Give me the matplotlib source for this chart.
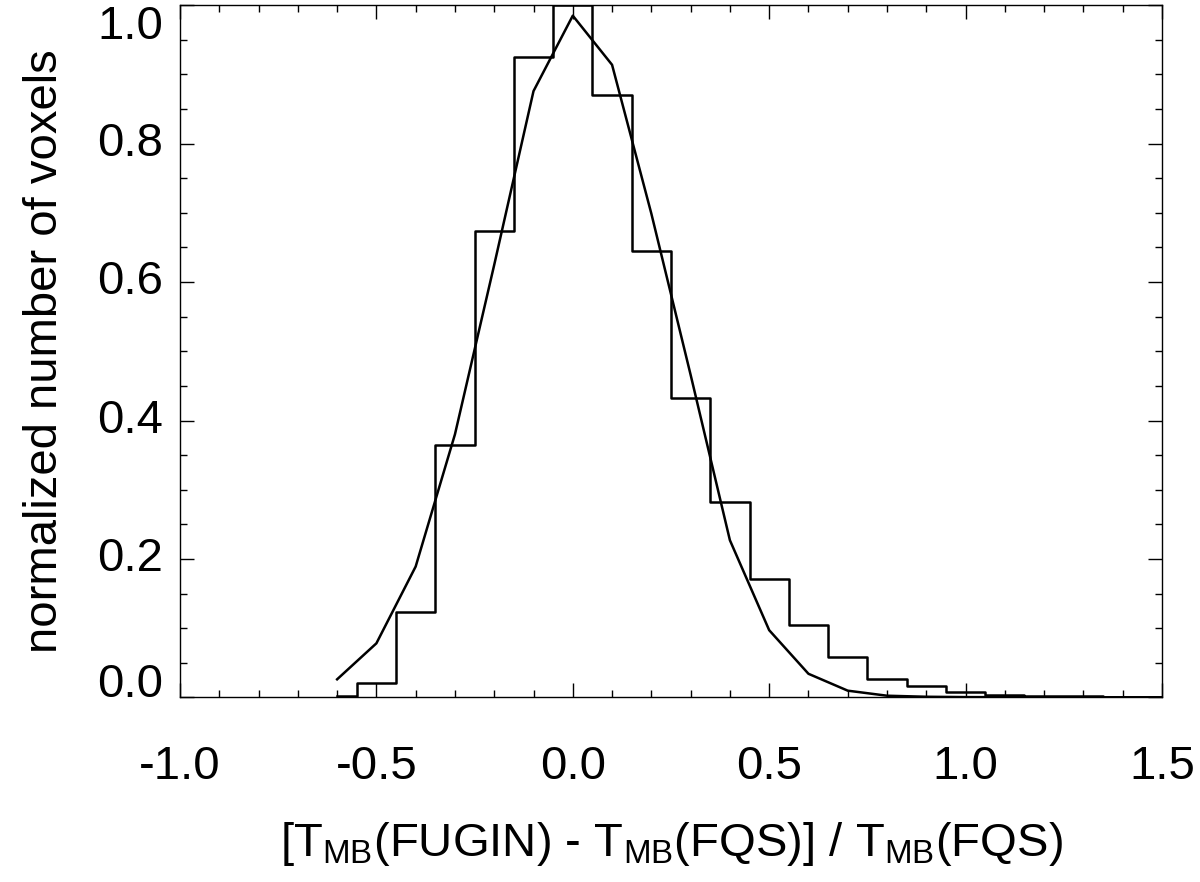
import numpy as np
import matplotlib.pyplot as plt
from matplotlib.ticker import MultipleLocator, FormatStrFormatter, NullFormatter
from matplotlib.transforms import blended_transform_factory, offset_copy

plt.rcParams['font.family'] = ['Liberation Sans', 'DejaVu Sans']
plt.rcParams['mathtext.fontset'] = 'custom'
plt.rcParams['mathtext.rm'] = 'Liberation Sans'

# bin centres (IDL psym=10 style histogram)
centres = [-0.6, -0.5, -0.4, -0.3, -0.2, -0.1, 0.0, 0.1, 0.2, 0.3, 0.4,
           0.5, 0.6, 0.7, 0.8, 0.9, 1.0, 1.1, 1.2, 1.3, 1.4, 1.5]
hist_vals = [0.002, 0.020, 0.123, 0.364, 0.674, 0.925, 1.0, 0.871, 0.645, 0.433, 0.282,
             0.1705, 0.104, 0.058, 0.0264, 0.016, 0.0077, 0.0038, 0.002, 0.0012, 0.0007, 0.0003]
# smooth (fitted) curve sampled at the same centres
curve_vals = [0.026, 0.078, 0.189, 0.38, 0.625, 0.876, 0.985, 0.914, 0.699, 0.466, 0.227,
              0.097, 0.034, 0.0096, 0.0023, 0.0008, 0.0003, 0.0002, 0.0001, 0.0001, 0.0, 0.0]
yticks = [0.0, 0.2, 0.4, 0.6, 0.8, 1.0]

fig = plt.figure(figsize=(12, 8.82), dpi=100)
ax = fig.add_axes([0.15, 0.2094, 0.8183, 0.7846])

ax.step(centres, hist_vals, where='mid', color='black', lw=1.8)
ax.plot(centres, curve_vals, color='black', lw=1.8)

ax.set_xlim(-1.0, 1.5)
ax.set_ylim(0.0, 1.0)
ax.xaxis.set_major_locator(MultipleLocator(0.5))
ax.xaxis.set_minor_locator(MultipleLocator(0.1))
ax.set_yticks(yticks)
ax.yaxis.set_minor_locator(MultipleLocator(0.05))
ax.xaxis.set_major_formatter(FormatStrFormatter('%.1f'))
ax.yaxis.set_major_formatter(NullFormatter())

ax.tick_params(which='both', direction='in', top=True, right=True, width=1.0, labelsize=34)
ax.tick_params(which='major', length=10)
ax.tick_params(which='minor', length=5)
ax.tick_params(axis='x', pad=34)
for s in ax.spines.values():
    s.set_linewidth(1.0)

# y tick labels drawn by hand so the end labels sit inside the axis range (IDL style)
trans = offset_copy(blended_transform_factory(ax.transAxes, ax.transData), fig=fig, x=-12, y=0, units='points')
for i, v in enumerate(yticks):
    va = 'center'
    if i == 0:
        va = 'baseline'
    elif i == len(yticks) - 1:
        va = 'top'
    ax.text(0, v, '%.1f' % v, transform=trans, ha='right', va=va, fontsize=34)

ax.set_xlabel(r'[T$_{\rm MB}$(FUGIN) - T$_{\rm MB}$(FQS)] / T$_{\rm MB}$(FQS)', fontsize=34, labelpad=23)
ax.set_ylabel('normalized number of voxels', fontsize=34, labelpad=78)

fig.savefig('out.png', dpi=100)
